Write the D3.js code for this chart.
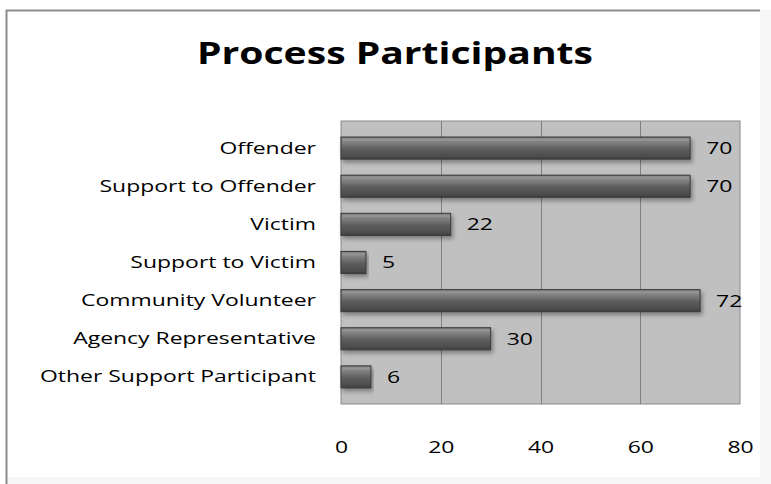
<!DOCTYPE html>
<meta charset="utf-8">
<script src="https://d3js.org/d3.v7.min.js"></script>
<html>
<head>
  <style>
    body { margin: 0; background: #fff; }
    svg { display: block; }
  </style>
</head>
<body>
  <div id="chart"></div>
<script>
  // data
  var categories = ["Offender", "Support to Offender", "Victim", "Support to Victim",
                    "Community Volunteer", "Agency Representative", "Other Support Participant"];
  var counts = [70, 70, 22, 5, 72, 30, 6];
  var xTicks = [0, 20, 40, 60, 80];

  var W = 771, H = 484;
  var plot = {left: 341, right: 740, top: 121, bottom: 404};
  var font = "'Open Sans', sans-serif";
  var stretch = "scale(1.35,1)"; // the original picture is widened horizontally

  var svg = d3.select("#chart").append("svg")
    .attr("width", W).attr("height", H);

  var defs = svg.append("defs");
  var grad = defs.append("linearGradient")
    .attr("id", "barGrad").attr("x1", 0).attr("y1", 0).attr("x2", 0).attr("y2", 1);
  [[0, "#6a6a6a"], [0.12, "#8a8a8a"], [0.3, "#7a7a7a"], [0.55, "#5c5c5c"], [0.85, "#4e4e4e"], [1, "#3e3e3e"]]
    .forEach(function(s) { grad.append("stop").attr("offset", s[0]).attr("stop-color", s[1]); });
  var shadow = defs.append("filter").attr("id", "shadow")
    .attr("x", "-5%").attr("y", "-20%").attr("width", "115%").attr("height", "160%");
  shadow.append("feDropShadow").attr("dx", 2).attr("dy", 3).attr("stdDeviation", 2)
    .attr("flood-color", "#000").attr("flood-opacity", 0.35);

  // outer frame: faint shade bottom/right, gray line top/left
  svg.append("rect").attr("x", 6).attr("y", 10).attr("width", W - 6).attr("height", H - 10)
    .attr("fill", "#f6f6f6");
  svg.append("rect").attr("x", 6).attr("y", 10).attr("width", 754).attr("height", 467)
    .attr("fill", "#fff");
  svg.append("path")
    .attr("d", "M6.5," + H + "V10.5H760")
    .attr("fill", "none").attr("stroke", "#8c8c8c").attr("stroke-width", 2);

  // title
  svg.append("text")
    .attr("x", 395).attr("y", 64)
    .attr("text-anchor", "middle")
    .style("font-family", font)
    .style("font-weight", "bold")
    .style("font-size", "31px")
    .attr("textLength", 396).attr("lengthAdjust", "spacingAndGlyphs")
    .text("Process Participants");

  var x = d3.scaleLinear().domain([0, 80]).range([plot.left, plot.right]);
  var y = d3.scaleBand().domain(categories).range([plot.top, plot.bottom]).padding(0.42);

  // plot area
  svg.append("rect")
    .attr("x", plot.left).attr("y", plot.top)
    .attr("width", plot.right - plot.left).attr("height", plot.bottom - plot.top)
    .attr("fill", "#c0c0c0").attr("stroke", "#8a8a8a").attr("stroke-width", 1);

  svg.append("g").selectAll("line")
    .data(xTicks.slice(1, -1))
    .join("line")
      .attr("x1", function(d) { return Math.round(x(d)) + 0.5; })
      .attr("x2", function(d) { return Math.round(x(d)) + 0.5; })
      .attr("y1", plot.top).attr("y2", plot.bottom)
      .attr("stroke", "#808080");

  // x axis labels
  var xAxis = svg.append("g")
    .attr("transform", "translate(0," + (plot.bottom + 37) + ")")
    .call(d3.axisBottom(x).tickValues(xTicks).tickSize(0).tickPadding(0));
  xAxis.select(".domain").remove();
  xAxis.selectAll("text")
    .attr("transform", stretch)
    .style("font-family", font).style("font-size", "17px").attr("fill", "#000");

  // y axis labels
  var yAxis = svg.append("g")
    .attr("transform", "translate(" + (plot.left - 25) + ",0)")
    .call(d3.axisLeft(y).tickSize(0).tickPadding(0));
  yAxis.select(".domain").remove();
  yAxis.selectAll("text")
    .attr("transform", stretch)
    .style("font-family", font).style("font-size", "17px").attr("fill", "#000");

  // bars
  var bars = svg.append("g").selectAll("g")
    .data(categories)
    .join("g");

  bars.append("rect")
    .attr("x", x(0))
    .attr("y", function(d) { return y(d); })
    .attr("width", function(d, i) { return x(counts[i]) - x(0); })
    .attr("height", y.bandwidth())
    .attr("fill", "url(#barGrad)")
    .attr("stroke", "#3a3a3a").attr("stroke-width", 1)
    .attr("filter", "url(#shadow)");

  // bevel highlight along top
  bars.append("rect")
    .attr("x", x(0) + 1)
    .attr("y", function(d) { return y(d) + 1; })
    .attr("width", function(d, i) { return Math.max(0, x(counts[i]) - x(0) - 2); })
    .attr("height", 3)
    .attr("fill", "#9a9a9a").attr("opacity", 0.6);

  // value labels
  bars.append("text")
    .attr("transform", function(d, i) {
      return "translate(" + (x(counts[i]) + 16) + "," + (y(d) + y.bandwidth() / 2) + ")" + stretch;
    })
    .attr("dy", "0.35em")
    .style("font-family", font).style("font-size", "17px")
    .text(function(d, i) { return counts[i]; });
</script>
</body>
</html>
